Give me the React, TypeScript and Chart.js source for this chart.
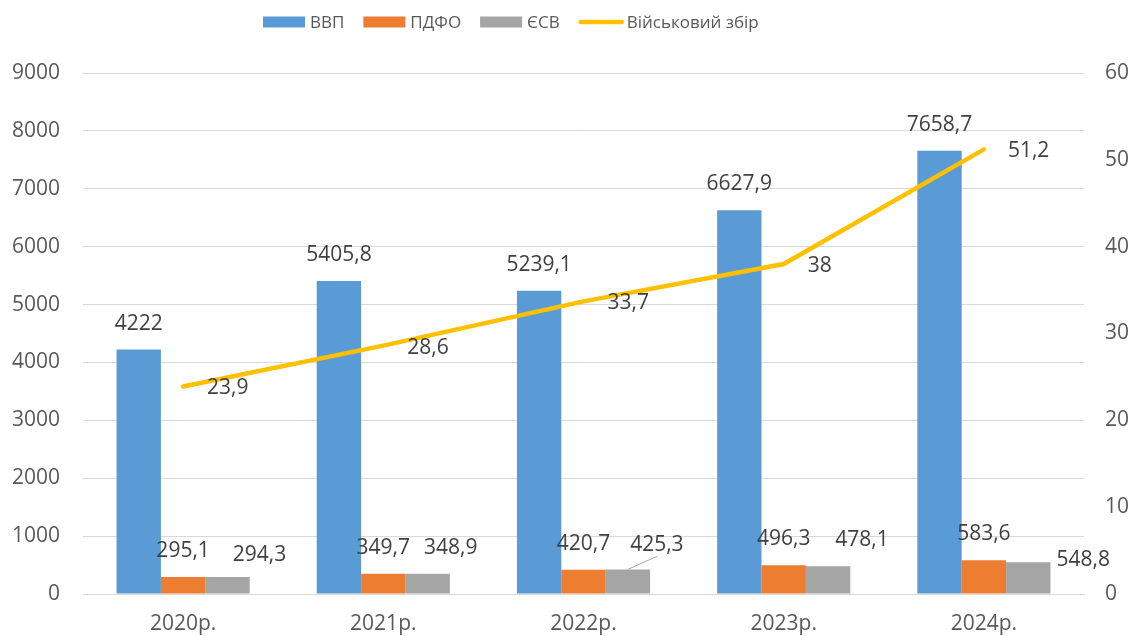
import React, { useEffect, useRef } from 'react';
import { Chart, registerables } from 'chart.js';

Chart.register(...registerables);

const categories = ['2020р.', '2021р.', '2022р.', '2023р.', '2024р.'];
const seriesNames = ['ВВП', 'ПДФО', 'ЄСВ', 'Військовий збір'];
const gdp = [4222, 5405.8, 5239.1, 6627.9, 7658.7];
const pdfo = [295.1, 349.7, 420.7, 496.3, 583.6];
const esv = [294.3, 348.9, 425.3, 478.1, 548.8];
const military = [23.9, 28.6, 33.7, 38, 51.2];
const leftTicks = [0, 9000, 1000];
const rightTicks = [0, 60, 10];

const colors = ['#5B9BD5', '#ED7D31', '#A5A5A5', '#FFC000'];
const FONT = '"Open Sans", sans-serif';
// label placement offsets for ЄСВ labels (dx, dy relative to bar top)
const esvLabelOffsets = [[32, -22], [23, -26], [29, -24], [34, -26], [55, -2]];
const esvLeader = [false, false, true, false, false];

const fmt = (v: number) => String(v).replace('.', ',');

const labelPlugin = {
  id: 'dataLabels',
  afterDatasetsDraw(chart: any) {
    const ctx = chart.ctx;
    ctx.save();
    ctx.font = `21px ${FONT}`;
    ctx.fillStyle = '#404040';
    ctx.textBaseline = 'middle';
    chart.data.datasets.forEach((ds: any, di: number) => {
      const meta = chart.getDatasetMeta(di);
      meta.data.forEach((el: any, i: number) => {
        const txt = fmt(ds.data[i]);
        let x = el.x;
        let y = el.y;
        if (di === 0 || di === 1) {
          ctx.textAlign = 'center';
          y -= 26;
        } else if (di === 2) {
          ctx.textAlign = 'center';
          x += esvLabelOffsets[i][0];
          y += esvLabelOffsets[i][1];
          if (esvLeader[i]) {
            ctx.save();
            ctx.strokeStyle = '#A5A5A5';
            ctx.lineWidth = 1;
            ctx.beginPath();
            ctx.moveTo(el.x, el.y);
            ctx.lineTo(x, y + 11);
            ctx.stroke();
            ctx.restore();
          }
        } else {
          ctx.textAlign = 'left';
          x += 24;
          y += 2;
        }
        ctx.fillText(txt, x, y);
      });
    });
    ctx.restore();
  },
};

const legendPlugin = {
  id: 'customLegend',
  afterDraw(chart: any) {
    const ctx = chart.ctx;
    ctx.save();
    ctx.font = `17px ${FONT}`;
    ctx.textBaseline = 'middle';
    ctx.textAlign = 'left';
    let x = 263;
    const y = 22;
    seriesNames.forEach((name, i) => {
      if (i < 3) {
        ctx.fillStyle = colors[i];
        ctx.fillRect(x, y - 5.5, 42, 11);
        x += 42 + 5;
      } else {
        ctx.strokeStyle = colors[i];
        ctx.lineWidth = 4.5;
        ctx.lineCap = 'round';
        ctx.beginPath();
        ctx.moveTo(x + 2, y);
        ctx.lineTo(x + 43, y);
        ctx.stroke();
        x += 45 + 3;
      }
      ctx.fillStyle = '#595959';
      ctx.fillText(name, x, y + 1);
      x += ctx.measureText(name).width + 19;
    });
    ctx.restore();
  },
};

export default function App() {
  const ref = useRef<HTMLCanvasElement>(null);
  useEffect(() => {
    document.body.style.margin = '0';
    const barCommon = {
      type: 'bar' as const,
      yAxisID: 'y',
      categoryPercentage: 0.665,
      barPercentage: 1,
      order: 1,
    };
    const tickFont = { family: FONT, size: 21 };
    const chart = new Chart(ref.current as HTMLCanvasElement, {
      type: 'bar',
      data: {
        labels: categories,
        datasets: [
          { ...barCommon, label: seriesNames[0], data: gdp, backgroundColor: colors[0] },
          { ...barCommon, label: seriesNames[1], data: pdfo, backgroundColor: colors[1] },
          { ...barCommon, label: seriesNames[2], data: esv, backgroundColor: colors[2] },
          {
            type: 'line',
            label: seriesNames[3],
            data: military,
            yAxisID: 'y1',
            borderColor: colors[3],
            backgroundColor: colors[3],
            borderWidth: 4.5,
            borderCapStyle: 'round',
            pointRadius: 0,
            tension: 0,
            order: 0,
          } as any,
        ],
      },
      options: {
        responsive: false,
        animation: false,
        layout: { padding: { top: 73, left: 0, right: 0, bottom: 0 } },
        plugins: { legend: { display: false }, tooltip: { enabled: false } },
        scales: {
          x: {
            grid: { display: false, drawTicks: false },
            border: { display: true, color: '#D9D9D9', width: 1 },
            ticks: { color: '#595959', font: tickFont, padding: 17 },
            afterFit: (s: any) => { s.height = 42; },
          },
          y: {
            position: 'left',
            min: leftTicks[0],
            max: leftTicks[1],
            ticks: {
              stepSize: leftTicks[2],
              color: '#595959',
              font: tickFont,
              padding: 23,
              callback: (v: any) => String(v),
            },
            grid: { color: '#D9D9D9', lineWidth: 1, drawTicks: false },
            border: { display: false },
            afterFit: (s: any) => { s.width = 83; },
          },
          y1: {
            position: 'right',
            min: rightTicks[0],
            max: rightTicks[1],
            ticks: {
              stepSize: rightTicks[2],
              color: '#595959',
              font: tickFont,
              padding: 21,
              callback: (v: any) => String(v),
            },
            grid: { display: false, drawTicks: false },
            border: { display: false },
            afterFit: (s: any) => { s.width = 64; },
          },
        },
      } as any,
      plugins: [labelPlugin, legendPlugin],
    });
    return () => chart.destroy();
  }, []);
  return (
    <div style={{ width: 1148, height: 636 }}>
      <canvas ref={ref} width={1148} height={636} />
    </div>
  );
}
